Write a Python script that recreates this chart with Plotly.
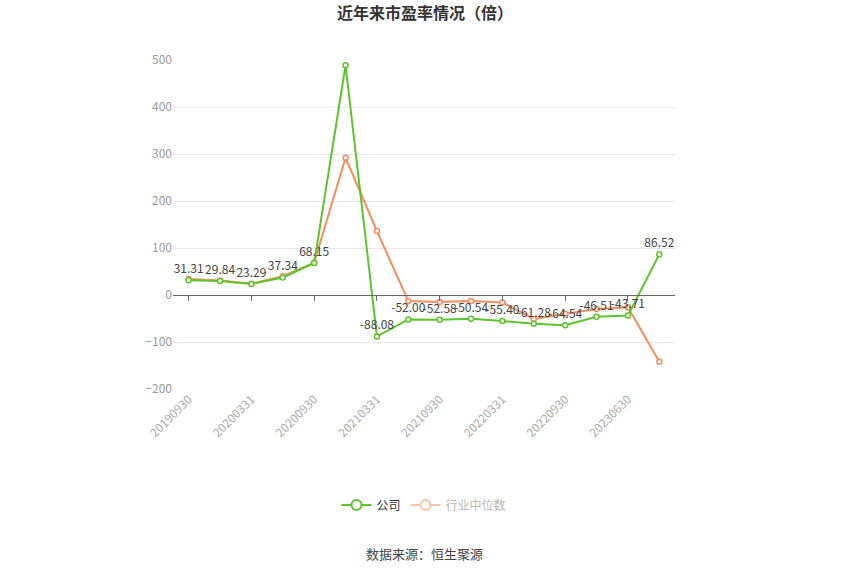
"""近年来市盈率情况（倍） - line chart, company vs industry median PE."""

import plotly.graph_objects as go

FONT = "Noto Sans CJK SC, Microsoft YaHei, sans-serif"
GREEN = "#5cc42c"
ORANGE = "#f98b5c"

dates = [
    "20190930", "20191231", "20200331", "20200630", "20200930", "20201231",
    "20210331", "20210630", "20210930", "20211231", "20220331", "20220630",
    "20220930", "20230331", "20230630", "20230930",
]
company_pe = [
    31.31, 29.84, 23.29, 37.34, 68.15, 488.82, -88.08, -52.00,
    -52.58, -50.54, -55.40, -61.28, -64.54, -46.51, -43.71, 86.52,
]
industry_pe = [
    34, 31, 24, 40, 69, 292, 136, -13,
    -15, -13, -16, -51, -40, -30, -26, -142,
]
tick_idx = list(range(0, len(dates), 2))
tick_labels = [dates[i] for i in tick_idx]
y_ticks = [-200, -100, 0, 100, 200, 300, 400, 500]

x = list(range(len(dates)))


def marker(color, size):
    return dict(symbol="circle", size=size, color="white", line=dict(color=color, width=1.5))


fig = go.Figure()
fig.add_trace(go.Scatter(
    x=x, y=industry_pe, name="行业中位数", mode="lines+markers",
    line=dict(color=ORANGE, width=2), marker=marker(ORANGE, 5), showlegend=False,
))
fig.add_trace(go.Scatter(
    x=x, y=company_pe, name="公司", mode="lines+markers+text",
    line=dict(color=GREEN, width=2), marker=marker(GREEN, 5), showlegend=False,
    text=[f"{v:.2f}" for v in company_pe], textposition="top center",
    textfont=dict(size=12, color="#444", family=FONT),
))
# legend entries (bigger hollow circles, industry item faded like the original)
fig.add_trace(go.Scatter(
    x=[None], y=[None], name="公司", mode="lines+markers",
    line=dict(color=GREEN, width=2), marker=dict(symbol="circle", size=10, color="white", line=dict(color=GREEN, width=2)),
))
fig.add_trace(go.Scatter(
    x=[None], y=[None], name="<span style='color:#b8b8b8'>行业中位数</span>", mode="lines+markers",
    line=dict(color="#fcc2a8", width=2), marker=dict(symbol="circle", size=10, color="white", line=dict(color="#fcc2a8", width=2)),
))

# axis line with tick marks sitting on y = 0
fig.add_trace(go.Scatter(x=x, y=[None] * len(x), xaxis="x2", showlegend=False, hoverinfo="skip"))

fig.update_layout(
    width=850, height=575,
    margin=dict(l=173, r=175, t=60, b=186),
    paper_bgcolor="white", plot_bgcolor="white",
    font=dict(family=FONT, size=12, color="#333"),
    title=dict(text="<b>近年来市盈率情况（倍）</b>", x=0.5, xanchor="center", y=0.977, yanchor="middle",
               font=dict(size=16, color="#333", family=FONT)),
    showlegend=True,
    legend=dict(orientation="h", x=0.5, xanchor="center", y=-0.3526, yanchor="middle",
                font=dict(size=12, color="#333", family=FONT), itemwidth=30),
    xaxis=dict(
        range=[-0.5, len(dates) - 0.5], tickmode="array", tickvals=tick_idx, ticktext=tick_labels,
        tickangle=-45, tickfont=dict(size=12, color="#aaa", family=FONT),
        showgrid=False, zeroline=False, showline=False, ticks="",
    ),
    xaxis2=dict(
        range=[-0.5, len(dates) - 0.5], overlaying="x", anchor="free", position=200 / 700,
        tickmode="array", tickvals=tick_idx, showticklabels=False,
        showline=True, linecolor="#666", linewidth=1, ticks="outside", ticklen=5, tickcolor="#666",
        showgrid=False, zeroline=False,
    ),
    yaxis=dict(
        range=[-200, 500], tickmode="array", tickvals=y_ticks,
        tickfont=dict(size=12, color="#999", family=FONT),
        showgrid=True, gridcolor="#e3e6ef", gridwidth=1, zeroline=False, showline=False, ticks="",
    ),
    annotations=[dict(
        text="数据来源：恒生聚源", x=0.5, xref="paper", xanchor="center",
        y=-0.4985, yref="paper", yanchor="middle", showarrow=False,
        font=dict(size=13, color="#444", family=FONT),
    )],
)

# drop the browser's default body margin so the figure fills the window from 0,0
fig.write_html(
    "out.html",
    config={"displayModeBar": False},
    post_script="document.body.style.margin = '0';",
)
